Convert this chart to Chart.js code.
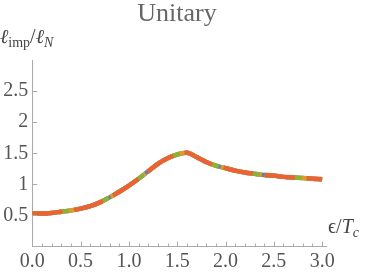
<!DOCTYPE html>
<html><head><meta charset="utf-8">
<script src="https://cdn.jsdelivr.net/npm/chart.js@4"></script>
<style>html,body{margin:0;padding:0;background:#fff}#wrap{width:374px;height:274px}</style>
</head><body><div id="wrap"><canvas id="c" width="374" height="274"></canvas></div>
<script>
// data
const epsOverTc   = [0.0, 0.1, 0.2, 0.3, 0.4, 0.5, 0.6, 0.7, 0.8, 0.9, 1.0, 1.1, 1.2, 1.3, 1.4, 1.5, 1.6, 1.7, 1.8, 1.9, 2.0, 2.1, 2.2, 2.3, 2.4, 2.5, 2.6, 2.7, 2.8, 2.9, 3.0];
const lengthRatio = [0.53,0.53,0.54,0.56,0.58,0.61,0.65,0.71,0.79,0.88,0.98,1.09,1.21,1.33,1.42,1.48,1.51,1.44,1.36,1.30,1.26,1.22,1.19,1.17,1.15,1.14,1.12,1.11,1.10,1.09,1.08];
const xTickValues = [0, 0.5, 1, 1.5, 2, 2.5, 3];
const yTickValues = [0.5, 1, 1.5, 2, 2.5];
const seriesNames = ['blue', 'yellow', 'green', 'orange'];
const seriesColors = ['#5E81B5', '#E19C24', '#8FB032', '#EB6235'];
const seriesDashes = [[], [6, 3], [16, 5], [30, 12]];
const chartTitle = 'Unitary';

const pts = epsOverTc.map((x, i) => ({x: x, y: lengthRatio[i]}));
const SERIF = "'Liberation Serif', 'DejaVu Serif', serif";
Chart.defaults.font.family = SERIF;
const fmtX = v => Number(v).toFixed(1);
const fmtY = v => String(v);

const overlay = {
  id: 'overlay',
  afterDraw(chart) {
    const ctx = chart.ctx, xs = chart.scales.x, ys = chart.scales.y;
    const y0 = ys.getPixelForValue(0), x0 = xs.getPixelForValue(0);
    ctx.save();
    // inward tick marks
    ctx.setLineDash([]);
    ctx.strokeStyle = '#aaa'; ctx.lineWidth = 1;
    ctx.beginPath();
    for (let k = 0; k <= 30; k++) {
      const px = Math.round(xs.getPixelForValue(k / 10)) + 0.5;
      const len = (k % 5 === 0) ? 5 : 3;
      ctx.moveTo(px, y0); ctx.lineTo(px, y0 - len);
    }
    yTickValues.forEach(v => {
      const py = Math.round(ys.getPixelForValue(v)) + 0.5;
      ctx.moveTo(x0, py); ctx.lineTo(x0 + 5, py);
    });
    ctx.stroke();
    // tick labels, placed through the scales
    ctx.fillStyle = '#555';
    ctx.font = '20px ' + SERIF;
    ctx.textAlign = 'center'; ctx.textBaseline = 'alphabetic';
    xs.ticks.forEach(t => ctx.fillText(fmtX(t.value), xs.getPixelForValue(t.value), y0 + 20));
    ctx.textAlign = 'right'; ctx.textBaseline = 'middle';
    ys.ticks.forEach(t => ctx.fillText(fmtY(t.value), x0 - 4, ys.getPixelForValue(t.value)));
    // title
    ctx.fillStyle = '#666';
    ctx.font = '26px ' + SERIF;
    ctx.textAlign = 'center'; ctx.textBaseline = 'alphabetic';
    ctx.fillText(chartTitle, 177, 21);
    ctx.textAlign = 'left';
    // axis labels
    ctx.fillStyle = '#444';
    let x = 0, base = 43;
    function put(t, font, dy) { ctx.font = font; ctx.fillText(t, x, base + (dy || 0)); x += ctx.measureText(t).width; }
    put('ℓ', 'italic 20px ' + SERIF);
    put('imp', '14px ' + SERIF, 4);
    put('/', '20px ' + SERIF);
    put('ℓ', 'italic 20px ' + SERIF);
    put('N', 'italic 14px ' + SERIF, 4);
    x = xs.right + 2; base = 233;
    put('ϵ', '20px ' + SERIF);
    put('/', '20px ' + SERIF);
    put('T', 'italic 20px ' + SERIF);
    put('c', 'italic 14px ' + SERIF, 4);
    ctx.restore();
  }
};

new Chart(document.getElementById('c'), {
  type: 'line',
  data: {
    datasets: seriesNames.map((n, i) => ({
      label: n, data: pts, borderColor: seriesColors[i], borderDash: seriesDashes[i],
      borderWidth: 4.5, pointRadius: 0, cubicInterpolationMode: 'monotone', fill: false,
      order: seriesNames.length - i, borderCapStyle: 'butt'
    }))
  },
  options: {
    responsive: false, animation: false, devicePixelRatio: 1,
    layout: {padding: {top: 60, right: 48, bottom: 0, left: 0}},
    plugins: {legend: {display: false}, tooltip: {enabled: false}, title: {display: false}},
    scales: {
      x: {
        type: 'linear', min: 0, max: 3.04,
        afterBuildTicks: s => { s.ticks = xTickValues.map(v => ({value: v})); },
        afterFit: s => { s.height = 27.5; },
        grid: {display: false, drawTicks: false},
        border: {display: true, color: '#aaa', width: 1},
        ticks: {display: false, callback: fmtX}
      },
      y: {
        type: 'linear', min: 0, max: 3,
        afterBuildTicks: s => { s.ticks = yTickValues.map(v => ({value: v})); },
        afterFit: s => { s.width = 32.3; },
        grid: {display: false, drawTicks: false},
        border: {display: true, color: '#aaa', width: 1},
        ticks: {display: false, callback: fmtY}
      }
    }
  },
  plugins: [overlay]
});
</script></body></html>
